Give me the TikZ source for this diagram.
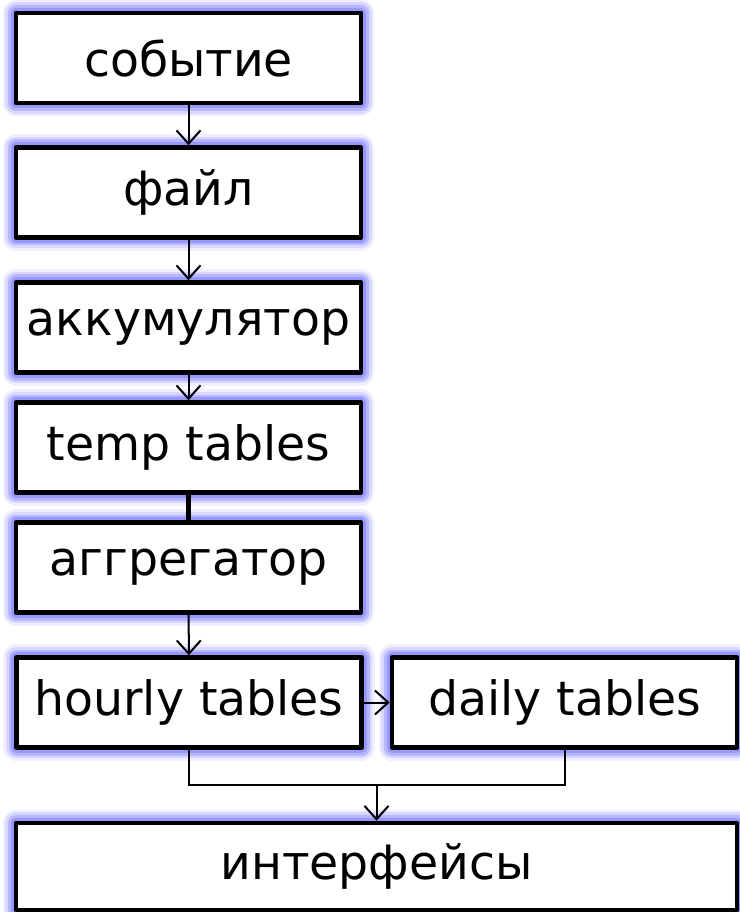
\documentclass[tikz,border=0pt]{standalone}
\usepackage{fontspec}
\setmainfont{DejaVu Sans}
\usetikzlibrary{arrows.meta}
\definecolor{glowblue}{RGB}{125,125,255}
\tikzset{
    stagebox/.style = {draw, line width = 3.4pt, line join = round, fill = white,
        minimum width = 258.75pt, minimum height = 67.5pt, inner sep = 0pt,
        font = \fontsize{35.5}{40}\selectfont,
        preaction = {draw = glowblue!12, line width = 20pt},
        preaction = {draw = glowblue!30, line width = 16pt},
        preaction = {draw = glowblue!55, line width = 12pt},
        preaction = {draw = glowblue!80, line width = 8pt}},
    link/.style = {line width = 1.5pt, -{Straight Barb[length = 10pt, width = 18pt]}}
}
\begin{document}
\begin{tikzpicture}[x = 0.75pt, y = -0.75pt]
        \useasboundingbox (0,0) rectangle (739,912);
        % left column
        \node[stagebox] (event)  at (188.5,58)    {событие};
        \node[stagebox] (file)   at (188.5,192.5) {файл};
        \node[stagebox] (accum)  at (188.5,327.5) {аккумулятор};
        \node[stagebox] (temp)   at (188.5,447.5) {temp tables};
        \node[stagebox] (aggr)   at (188.5,567.5) {аггрегатор};
        \node[stagebox] (hourly) at (189,702.5)   {hourly tables};
        \node[stagebox] (daily)  at (564.5,702.5) {daily tables};
        \node[stagebox, minimum width = 540.75pt, minimum height = 65.25pt] (ui) at (376.5,866.5) {интерфейсы};
        % connectors
        \draw[link] (event) -- (file);
        \draw[link] (file) -- (accum);
        \draw[link] (accum) -- (temp);
        \draw[line width = 3.4pt] (temp) -- (aggr);
        \draw[link] (aggr) -- (hourly);
        \draw[link] (hourly) -- (daily);
        \coordinate (merge) at (376.5,785);
        \draw[line width = 1.5pt] (hourly.south) |- (merge) -| (daily.south);
        \draw[link] (merge) -- (ui);
    \end{tikzpicture}
\end{document}
